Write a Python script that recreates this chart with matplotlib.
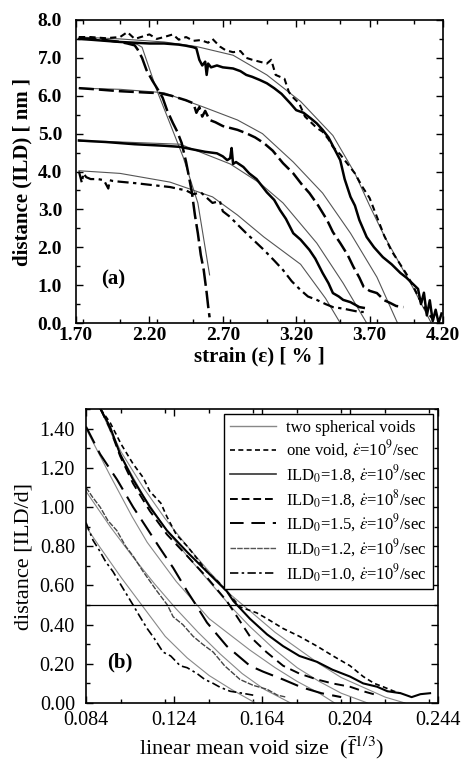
import matplotlib
matplotlib.use("Agg")
import matplotlib.pyplot as plt
from matplotlib.ticker import MultipleLocator, FixedLocator
from matplotlib.lines import Line2D

plt.rcParams['font.family'] = ['Liberation Serif', 'DejaVu Serif']
plt.rcParams['mathtext.fontset'] = 'stix'

# ---------------- panel (a): distance (ILD) [nm] vs strain [%] ----------------
a_xticks = [1.70, 2.20, 2.70, 3.20, 3.70, 4.20]
a_yticks = [0.0, 1.0, 2.0, 3.0, 4.0, 5.0, 6.0, 7.0, 8.0]

a_onevoid_x = [1.72, 1.80, 1.90, 2.00, 2.05, 2.10, 2.20, 2.25, 2.30, 2.36, 2.40, 2.45, 2.50, 2.55, 2.60,
               2.63, 2.68, 2.72, 2.77, 2.82, 2.86, 2.90, 2.95, 3.00, 3.03, 3.06, 3.09, 3.12, 3.15, 3.18,
               3.22, 3.26, 3.30, 3.34, 3.38, 3.42, 3.45, 3.50, 3.55, 3.60, 3.65, 3.70, 3.75, 3.80, 3.85,
               3.90, 3.95, 4.00, 4.05, 4.10, 4.15]
a_onevoid_y = [7.55, 7.55, 7.52, 7.55, 7.68, 7.50, 7.62, 7.50, 7.55, 7.62, 7.48, 7.55, 7.45, 7.47, 7.40,
               7.50, 7.30, 7.20, 7.15, 7.18, 7.00, 6.95, 6.90, 6.85, 6.95, 6.55, 6.50, 6.45, 6.10, 5.95,
               5.80, 5.45, 5.30, 5.15, 5.05, 4.85, 4.65, 4.45, 4.20, 3.95, 3.60, 3.30, 2.80, 2.30, 1.90,
               1.60, 1.30, 0.95, 0.55, 0.25, 0.00]

a_ild18_x = [1.72, 1.80, 1.90, 2.00, 2.10, 2.20, 2.30, 2.40, 2.45, 2.50, 2.52, 2.54, 2.56, 2.58, 2.59,
             2.60, 2.62, 2.66, 2.70, 2.77, 2.82, 2.86, 2.90, 2.95, 3.00, 3.05, 3.10, 3.16, 3.20, 3.25,
             3.30, 3.34, 3.38, 3.42, 3.46, 3.50, 3.53, 3.57, 3.60, 3.63, 3.68, 3.73, 3.79, 3.85, 3.91,
             3.95, 3.99, 4.03, 4.05, 4.07, 4.09, 4.11, 4.13, 4.15, 4.17, 4.19]
a_ild18_y = [7.50, 7.48, 7.45, 7.42, 7.40, 7.38, 7.38, 7.35, 7.32, 7.28, 7.25, 6.95, 6.80, 6.90, 6.55,
             6.85, 6.75, 6.80, 6.75, 6.72, 6.65, 6.55, 6.50, 6.42, 6.33, 6.20, 6.05, 5.80, 5.62, 5.55,
             5.40, 5.27, 5.10, 4.90, 4.60, 4.30, 3.80, 3.33, 3.10, 2.72, 2.27, 2.00, 1.74, 1.55, 1.32,
             1.20, 1.05, 0.90, 0.50, 0.80, 0.20, 0.60, 0.05, 0.35, 0.00, 0.25]

a_steep_x = [1.72, 1.80, 1.90, 2.00, 2.05, 2.10, 2.12, 2.15, 2.18, 2.22, 2.26, 2.29, 2.32, 2.36, 2.39,
             2.42, 2.45, 2.47, 2.49, 2.51, 2.53, 2.55, 2.57, 2.59, 2.60, 2.61]
a_steep_y = [7.52, 7.50, 7.47, 7.42, 7.38, 7.33, 7.22, 7.00, 6.68, 6.40, 6.15, 5.95, 5.62, 5.28, 5.05,
             4.75, 4.25, 3.85, 3.43, 2.85, 2.37, 1.80, 1.40, 0.80, 0.45, 0.15]

a_ild62_x = [1.72, 1.80, 1.90, 2.00, 2.10, 2.20, 2.27, 2.35, 2.45, 2.50, 2.52, 2.54, 2.56, 2.58, 2.61,
             2.65, 2.70, 2.73, 2.80, 2.86, 2.92, 2.98, 3.04, 3.11, 3.18, 3.24, 3.29, 3.35, 3.41, 3.45,
             3.50, 3.55, 3.59, 3.63, 3.66, 3.70, 3.75, 3.80, 3.84, 3.88, 3.93]
a_ild62_y = [6.20, 6.18, 6.15, 6.12, 6.10, 6.08, 6.07, 6.00, 5.88, 5.80, 5.55, 5.70, 5.45, 5.60, 5.36,
             5.30, 5.20, 5.17, 5.10, 5.01, 4.90, 4.75, 4.55, 4.22, 3.95, 3.65, 3.43, 3.10, 2.72, 2.40,
             2.11, 1.80, 1.48, 1.20, 0.95, 0.85, 0.79, 0.60, 0.53, 0.45, 0.42]

a_ild48_x = [1.72, 1.80, 1.90, 2.00, 2.10, 2.20, 2.30, 2.41, 2.50, 2.58, 2.62, 2.66, 2.70, 2.73, 2.75,
             2.76, 2.77, 2.79, 2.84, 2.88, 2.93, 2.97, 3.00, 3.05, 3.09, 3.13, 3.18, 3.23, 3.29, 3.33,
             3.38, 3.42, 3.45, 3.49, 3.52, 3.57, 3.63, 3.66]
a_ild48_y = [4.82, 4.80, 4.78, 4.75, 4.72, 4.70, 4.68, 4.65, 4.58, 4.52, 4.50, 4.48, 4.40, 4.30, 4.35,
             4.62, 4.20, 4.25, 4.12, 3.95, 3.80, 3.60, 3.45, 3.25, 2.98, 2.75, 2.37, 2.20, 1.93, 1.70,
             1.32, 1.05, 0.79, 0.70, 0.61, 0.55, 0.42, 0.40]

a_ild40_x = [1.72, 1.74, 1.75, 1.77, 1.80, 1.85, 1.89, 1.92, 1.93, 1.95, 2.00, 2.11, 2.20, 2.34, 2.45,
             2.50, 2.55, 2.63, 2.68, 2.70, 2.75, 2.80, 2.86, 2.92, 2.98, 3.05, 3.11, 3.17, 3.23, 3.28,
             3.34, 3.40, 3.45, 3.52, 3.57, 3.62, 3.66]
a_ild40_y = [4.00, 3.70, 3.95, 3.85, 3.80, 3.80, 3.77, 3.55, 3.77, 3.75, 3.73, 3.69, 3.65, 3.59, 3.50,
             3.40, 3.45, 3.17, 3.22, 2.95, 2.80, 2.60, 2.37, 2.15, 1.93, 1.65, 1.40, 1.10, 0.87, 0.70,
             0.61, 0.50, 0.42, 0.38, 0.34, 0.30, 0.29]

a_fit75_x = [1.72, 2.00, 2.30, 2.52, 2.77, 3.00, 3.23, 3.45, 3.60, 3.70, 3.80, 3.90, 4.00, 4.06, 4.12]
a_fit75_y = [7.55, 7.50, 7.42, 7.30, 7.07, 6.55, 5.85, 4.95, 3.95, 3.10, 2.30, 1.60, 0.90, 0.45, 0.00]
a_fitsteep_x = [2.08, 2.12, 2.15, 2.25, 2.34, 2.43, 2.53, 2.61]
a_fitsteep_y = [7.40, 7.35, 7.28, 6.15, 5.27, 4.38, 3.17, 1.27]
a_fit62_x = [1.72, 2.00, 2.30, 2.57, 2.80, 2.97, 3.18, 3.38, 3.57, 3.75, 3.89]
a_fit62_y = [6.20, 6.17, 6.08, 5.70, 5.36, 5.00, 4.25, 3.43, 2.37, 1.21, 0.00]
a_fit48_x = [1.72, 2.00, 2.41, 2.75, 2.95, 3.11, 3.34, 3.52, 3.68]
a_fit48_y = [4.80, 4.78, 4.72, 4.20, 3.70, 3.17, 2.11, 1.05, 0.00]
a_fit40_x = [1.72, 2.00, 2.34, 2.63, 2.80, 2.98, 3.23, 3.40, 3.50]
a_fit40_y = [4.02, 3.95, 3.72, 3.33, 2.85, 2.27, 1.55, 0.65, 0.00]

# ---------------- panel (b): distance [ILD/d] vs linear mean void size ----------------
b_xticks = [0.084, 0.124, 0.164, 0.204, 0.244]
b_yticks = [0.00, 0.20, 0.40, 0.60, 0.80, 1.00, 1.20, 1.40]

b_fitA_x = [0.0906, 0.100, 0.110, 0.120, 0.130, 0.140, 0.150, 0.1585, 0.170, 0.180, 0.190, 0.200, 0.210, 0.220, 0.229]
b_fitA_y = [1.50, 1.28, 1.10, 0.94, 0.80, 0.67, 0.55, 0.47, 0.36, 0.28, 0.20, 0.13, 0.08, 0.03, 0.00]
b_fitB_x = [0.0906, 0.100, 0.110, 0.120, 0.130, 0.140, 0.150, 0.1585, 0.170, 0.180, 0.190, 0.200, 0.212]
b_fitB_y = [1.50, 1.26, 1.06, 0.89, 0.75, 0.62, 0.49, 0.39, 0.27, 0.18, 0.11, 0.05, 0.00]
b_fitC_x = [0.084, 0.095, 0.105, 0.1118, 0.125, 0.140, 0.1585, 0.170, 0.180, 0.190, 0.197]
b_fitC_y = [1.40, 1.16, 0.95, 0.82, 0.62, 0.43, 0.27, 0.18, 0.11, 0.05, 0.00]
b_fitD_x = [0.084, 0.095, 0.105, 0.115, 0.125, 0.135, 0.145, 0.155, 0.165, 0.177]
b_fitD_y = [1.08, 0.90, 0.75, 0.61, 0.48, 0.36, 0.25, 0.15, 0.07, 0.00]
b_fitE_x = [0.084, 0.090, 0.100, 0.110, 0.120, 0.130, 0.140, 0.150, 0.161]
b_fitE_y = [0.90, 0.80, 0.64, 0.49, 0.34, 0.23, 0.14, 0.07, 0.00]

b_onevoid_x = [0.0906, 0.095, 0.100, 0.1054, 0.110, 0.113, 0.118, 0.1208, 0.125, 0.130, 0.135, 0.139,
               0.144, 0.148, 0.154, 0.1616, 0.1663, 0.1736, 0.181, 0.189, 0.1963, 0.204, 0.210, 0.215,
               0.219, 0.224, 0.227]
b_onevoid_y = [1.50, 1.43, 1.32, 1.22, 1.15, 1.08, 1.02, 0.95, 0.86, 0.80, 0.73, 0.67,
               0.62, 0.57, 0.49, 0.46, 0.43, 0.38, 0.34, 0.29, 0.24, 0.19, 0.135, 0.10,
               0.083, 0.06, 0.05]
b_ild18_x = [0.0906, 0.0949, 0.0995, 0.1054, 0.113, 0.1208, 0.130, 0.139, 0.148, 0.151, 0.1585, 0.1663,
             0.1736, 0.181, 0.189, 0.196, 0.204, 0.210, 0.2163, 0.221, 0.227, 0.232, 0.236, 0.2404]
b_ild18_y = [1.50, 1.41, 1.27, 1.14, 1.00, 0.88, 0.77, 0.67, 0.57, 0.52, 0.43, 0.35,
             0.29, 0.24, 0.21, 0.17, 0.135, 0.10, 0.083, 0.06, 0.05, 0.03, 0.045, 0.05]
b_ild18s_x = [0.0906, 0.0949, 0.0995, 0.1054, 0.113, 0.1208, 0.130, 0.139, 0.148, 0.1585, 0.166,
              0.1736, 0.181, 0.189, 0.196, 0.204, 0.210, 0.2163]
b_ild18s_y = [1.50, 1.40, 1.26, 1.12, 0.98, 0.86, 0.75, 0.64, 0.52, 0.34, 0.26,
              0.19, 0.15, 0.12, 0.10, 0.083, 0.06, 0.04]
b_ild15_x = [0.084, 0.0904, 0.0981, 0.1054, 0.1118, 0.1176, 0.1236, 0.130, 0.134, 0.139, 0.148,
             0.1585, 0.1645, 0.1736, 0.182, 0.191, 0.200]
b_ild15_y = [1.41, 1.27, 1.14, 1.00, 0.89, 0.79, 0.69, 0.57, 0.50, 0.41, 0.29,
             0.19, 0.16, 0.12, 0.08, 0.05, 0.03]
b_ild12_x = [0.084, 0.087, 0.0904, 0.094, 0.098, 0.102, 0.1054, 0.110, 0.1163, 0.121, 0.1236, 0.128,
             0.1327, 0.137, 0.1418, 0.147, 0.154, 0.160, 0.1663, 0.171, 0.175]
b_ild12_y = [1.10, 1.05, 1.00, 0.93, 0.88, 0.80, 0.75, 0.67, 0.57, 0.50, 0.44, 0.40,
             0.34, 0.30, 0.26, 0.19, 0.12, 0.09, 0.07, 0.04, 0.03]
b_ild10_x = [0.084, 0.0872, 0.090, 0.093, 0.0963, 0.100, 0.1054, 0.108, 0.1118, 0.115, 0.119, 0.1225,
             0.1268, 0.130, 0.1345, 0.138, 0.1418, 0.145, 0.1495, 0.155, 0.160]
b_ild10_y = [0.92, 0.83, 0.78, 0.72, 0.67, 0.60, 0.50, 0.45, 0.38, 0.33, 0.26, 0.24,
             0.19, 0.18, 0.15, 0.12, 0.10, 0.08, 0.06, 0.05, 0.04]
b_hline = 0.50

legend_labels = ['two spherical voids',
                 r'one void, $\dot{\varepsilon}$=10$^9$/sec',
                 r'ILD$_0$=1.8, $\dot{\varepsilon}$=10$^9$/sec',
                 r'ILD$_0$=1.8, $\dot{\varepsilon}$=10$^8$/sec',
                 r'ILD$_0$=1.5, $\dot{\varepsilon}$=10$^9$/sec',
                 r'ILD$_0$=1.2, $\dot{\varepsilon}$=10$^9$/sec',
                 r'ILD$_0$=1.0, $\dot{\varepsilon}$=10$^9$/sec']

# ---------------- styles ----------------
fit_kw = dict(color='#555555', lw=0.8)
fitb_kw = dict(color='#888888', lw=0.8)
sty_onevoid = dict(color='black', lw=1.2, linestyle=(0, (3, 2)))
sty_solid = dict(color='black', lw=1.5, linestyle='-')
sty_dash8 = dict(color='black', lw=1.4, linestyle=(0, (5, 3)))
sty_long = dict(color='black', lw=1.5, linestyle=(0, (9, 4)))
sty_fine = dict(color='#444444', lw=1.0, linestyle=(0, (4, 1)))
sty_dashdot = dict(color='black', lw=1.2, linestyle=(0, (5, 2, 1.5, 2)))

fig = plt.figure(figsize=(4.61, 7.64), dpi=100)

# ---------------- panel (a) ----------------
ax1 = fig.add_axes([76/461, 1-323/764, (443-76)/461, (323-20)/764])
ax1.plot(a_fit75_x, a_fit75_y, **fit_kw)
ax1.plot(a_fitsteep_x, a_fitsteep_y, **fit_kw)
ax1.plot(a_fit62_x, a_fit62_y, **fit_kw)
ax1.plot(a_fit48_x, a_fit48_y, **fit_kw)
ax1.plot(a_fit40_x, a_fit40_y, **fit_kw)
ax1.plot(a_onevoid_x, a_onevoid_y, color='black', lw=1.5, linestyle=(0, (3, 2)))
ax1.plot(a_ild18_x, a_ild18_y, color='black', lw=1.8)
ax1.plot(a_steep_x, a_steep_y, color='black', lw=1.8, linestyle=(0, (7, 2)))
ax1.plot(a_ild62_x, a_ild62_y, color='black', lw=1.8, linestyle=(0, (6, 2)))
ax1.plot(a_ild48_x, a_ild48_y, color='black', lw=1.8)
ax1.plot(a_ild40_x, a_ild40_y, color='black', lw=1.6, linestyle=(0, (5, 2, 1.5, 2)))
ax1.set_xlim(1.70, 4.20)
ax1.set_ylim(0.0, 8.0)
ax1.xaxis.set_major_locator(FixedLocator(a_xticks))
ax1.yaxis.set_major_locator(FixedLocator(a_yticks))
ax1.xaxis.set_minor_locator(MultipleLocator(0.25))
ax1.yaxis.set_minor_locator(MultipleLocator(0.5))
ax1.set_xticklabels(['%.2f' % v for v in a_xticks])
ax1.set_yticklabels(['%.1f' % v for v in a_yticks])
ax1.tick_params(which='both', direction='in', top=True, right=True, width=1.0)
ax1.tick_params(which='major', length=5, labelsize=14)
ax1.tick_params(which='minor', length=3)
ax1.tick_params(axis='y', which='major', pad=10)
ax1.tick_params(axis='x', which='major', pad=3)
for lab in ax1.get_xticklabels() + ax1.get_yticklabels():
    lab.set_fontweight('bold')
ax1.set_xlabel('strain (ε) [ % ]', fontsize=15, fontweight='bold', labelpad=2)
ax1.set_ylabel('distance (ILD) [ nm ]', fontsize=15, fontweight='bold', labelpad=4)
ax1.text(1.87, 1.15, '(a)', fontsize=15, fontweight='bold', ha='left', va='center')
for s in ax1.spines.values():
    s.set_linewidth(1.2)

# ---------------- panel (b) ----------------
ax2 = fig.add_axes([86/461, 1-703/764, (438-86)/461, (703-409)/764])
ax2.plot(b_fitA_x, b_fitA_y, **fitb_kw)
ax2.plot(b_fitB_x, b_fitB_y, **fitb_kw)
ax2.plot(b_fitC_x, b_fitC_y, **fitb_kw)
ax2.plot(b_fitD_x, b_fitD_y, **fitb_kw)
ax2.plot(b_fitE_x, b_fitE_y, **fitb_kw)
ax2.plot(b_onevoid_x, b_onevoid_y, **sty_onevoid)
ax2.plot(b_ild18_x, b_ild18_y, **sty_solid)
ax2.plot(b_ild18s_x, b_ild18s_y, **sty_dash8)
ax2.plot(b_ild15_x, b_ild15_y, **sty_long)
ax2.plot(b_ild12_x, b_ild12_y, **sty_fine)
ax2.plot(b_ild10_x, b_ild10_y, **sty_dashdot)
ax2.axhline(b_hline, color='black', lw=0.9)
ax2.set_xlim(0.084, 0.244)
ax2.set_ylim(0.0, 1.5)
ax2.xaxis.set_major_locator(FixedLocator(b_xticks))
ax2.yaxis.set_major_locator(FixedLocator(b_yticks))
ax2.xaxis.set_minor_locator(MultipleLocator(0.02))
ax2.yaxis.set_minor_locator(MultipleLocator(0.1))
ax2.set_xticklabels(['%.3f' % v for v in b_xticks])
ax2.set_yticklabels(['%.2f' % v for v in b_yticks])
ax2.tick_params(which='both', direction='in', top=True, right=True, width=1.0)
ax2.tick_params(which='major', length=5, labelsize=14.5)
ax2.tick_params(which='minor', length=3)
ax2.tick_params(axis='y', which='major', pad=8)
ax2.tick_params(axis='x', which='major', pad=6)
ax2.set_xlabel(r'linear mean void size  ($\bar{\mathrm{f}}^{1/3}$)', fontsize=16, labelpad=3)
ax2.set_ylabel('distance [ILD/d]', fontsize=16, labelpad=4)
ax2.text(0.0935, 0.205, '(b)', fontsize=15, fontweight='bold', ha='left', va='center')
for s in ax2.spines.values():
    s.set_linewidth(1.2)

leg_handles = [Line2D([], [], color='#888888', lw=1.0),
               Line2D([], [], **sty_onevoid),
               Line2D([], [], color='#333333', lw=1.2),
               Line2D([], [], color='black', lw=1.4, linestyle=(0, (4, 2))),
               Line2D([], [], color='black', lw=1.4, linestyle=(0, (7, 4))),
               Line2D([], [], color='#555555', lw=1.0, linestyle=(0, (4, 0.8))),
               Line2D([], [], **sty_dashdot)]
leg = ax2.legend(leg_handles, legend_labels, loc='upper right', fontsize=12,
                 frameon=True, fancybox=False, edgecolor='black', framealpha=1,
                 borderaxespad=0.3, handlelength=2.8, handletextpad=0.6,
                 labelspacing=0.17, borderpad=0.35)
leg.get_frame().set_linewidth(1.0)

fig.savefig('out.png', dpi=100)
